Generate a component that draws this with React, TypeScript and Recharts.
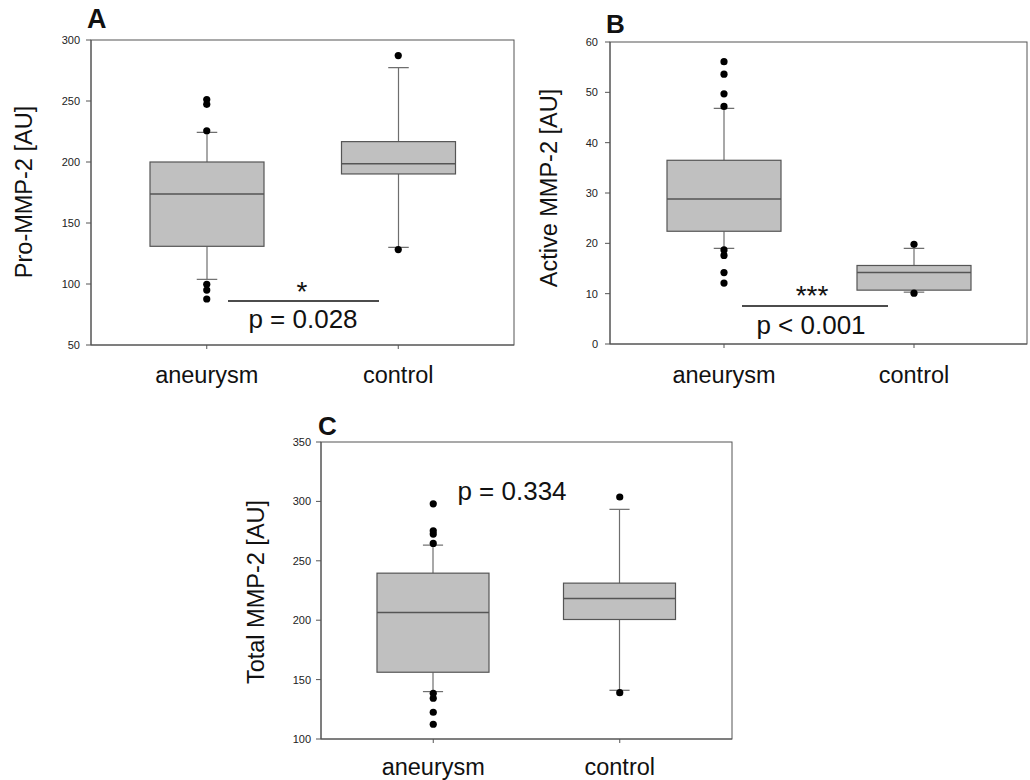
import React from 'react';
import { ComposedChart, Bar, Scatter, XAxis, YAxis, Customized } from 'recharts';

const FONT = "'Liberation Sans', Arial, sans-serif";

const groups = ['aneurysm', 'control'];

// Panel A – Pro-MMP-2 [AU]
const proLow = [103.8, 130.0];
const proQ1 = [130.9, 190.2];
const proMedian = [173.8, 198.6];
const proQ3 = [200.0, 216.7];
const proHigh = [224.3, 277.3];
const proOutAneurysm = [251.2, 247.3, 225.6, 99.8, 95.0, 87.7];
const proOutControl = [287.2, 128.2];
const proTicks = [50, 100, 150, 200, 250, 300];

// Panel B – Active MMP-2 [AU]
const actLow = [19.0, 10.3];
const actQ1 = [22.4, 10.7];
const actMedian = [28.8, 14.2];
const actQ3 = [36.5, 15.6];
const actHigh = [46.8, 19.0];
const actOutAneurysm = [56.1, 53.6, 49.7, 47.2, 18.7, 17.6, 14.2, 12.1];
const actOutControl = [19.8, 10.1];
const actTicks = [0, 10, 20, 30, 40, 50, 60];

// Panel C – Total MMP-2 [AU]
const totLow = [139.9, 141.0];
const totQ1 = [156.2, 200.6];
const totMedian = [206.5, 218.3];
const totQ3 = [239.6, 231.2];
const totHigh = [263.2, 293.3];
const totOutAneurysm = [298.0, 275.3, 272.5, 264.6, 138.5, 134.3, 122.5, 112.4];
const totOutControl = [303.7, 139.0];
const totTicks = [100, 150, 200, 250, 300, 350];

const makeBoxes = (low: number[], q1: number[], med: number[], q3: number[], high: number[]) =>
  groups.map((g, i) => ({ group: g, low: low[i], q1: q1[i], median: med[i], q3: q3[i], high: high[i] }));

const makeOutliers = (a: number[], c: number[]) => [
  ...a.map((v) => ({ group: groups[0], value: v })),
  ...c.map((v) => ({ group: groups[1], value: v })),
];

const BoxShape = (props: any) => {
  const { x, y, width, height, payload } = props;
  if (!payload || !isFinite(y) || !isFinite(height)) return null;
  const span = payload.high - payload.low;
  const h = Math.abs(height);
  const top = height >= 0 ? y : y + height;
  const py = (v: number) => top + ((payload.high - v) * h) / span;
  const cx = x + width / 2;
  const cap = width * 0.09;
  const wc = '#6e6e6e';
  return (
    <g>
      <line x1={cx} x2={cx} y1={py(payload.high)} y2={py(payload.q3)} stroke={wc} strokeWidth={1.2} />
      <line x1={cx} x2={cx} y1={py(payload.q1)} y2={py(payload.low)} stroke={wc} strokeWidth={1.2} />
      <line x1={cx - cap} x2={cx + cap} y1={py(payload.high)} y2={py(payload.high)} stroke={wc} strokeWidth={1.2} />
      <line x1={cx - cap} x2={cx + cap} y1={py(payload.low)} y2={py(payload.low)} stroke={wc} strokeWidth={1.2} />
      <rect
        x={x}
        y={py(payload.q3)}
        width={width}
        height={py(payload.q1) - py(payload.q3)}
        fill="#c0c0c0"
        stroke="#555"
        strokeWidth={1.2}
      />
      <line x1={x} x2={x + width} y1={py(payload.median)} y2={py(payload.median)} stroke="#555" strokeWidth={1.6} />
    </g>
  );
};

const Dot = (props: any) => {
  const { cx, cy } = props;
  if (!isFinite(cx) || !isFinite(cy)) return null;
  return <circle cx={cx} cy={cy} r={3.6} fill="#000" />;
};

const makeCatTick = (dy: number) => (props: any) => {
  const { x, y, payload } = props;
  return (
    <text x={x} y={y + dy} textAnchor="middle" fontSize={23.5} fill="#111" fontFamily={FONT}>
      {payload.value}
    </text>
  );
};

type Ann = { kind: 'text'; x: number; y: number; text: string; size: number; bold?: boolean; anchor?: string }
  | { kind: 'line'; x1: number; x2: number; y: number };

type PanelProps = {
  left: number;
  top: number;
  width: number;
  height: number;
  margin: { top: number; right: number; bottom: number; left: number };
  yAxisWidth: number;
  xAxisHeight: number;
  pad: { left: number; right: number };
  tickMargin: number;
  catDy: number;
  barSize: number;
  data: any[];
  outliers: any[];
  domain: [number, number];
  ticks: number[];
  yLabel: string;
  yLabelPos: { x: number; y: number };
  annotations: Ann[];
};

const Panel = (p: PanelProps) => {
  const frameX = p.margin.left + p.yAxisWidth;
  const frameY = p.margin.top;
  const frameW = p.width - frameX - p.margin.right;
  const frameH = p.height - p.margin.top - p.margin.bottom - p.xAxisHeight;
  const Ann = () => (
    <g fontFamily={FONT}>
      <rect x={frameX} y={frameY} width={frameW} height={frameH} fill="none" stroke="#555" strokeWidth={1} />
      <text
        transform={`translate(${p.yLabelPos.x},${p.yLabelPos.y}) rotate(-90)`}
        textAnchor="middle"
        fontSize={23.5}
        fill="#111"
      >
        {p.yLabel}
      </text>
      {p.annotations.map((a, i) =>
        a.kind === 'line' ? (
          <line key={i} x1={a.x1} x2={a.x2} y1={a.y} y2={a.y} stroke="#111" strokeWidth={1.5} />
        ) : (
          <text
            key={i}
            x={a.x}
            y={a.y}
            fontSize={a.size}
            fontWeight={a.bold ? 'bold' : 'normal'}
            textAnchor={(a.anchor as any) || 'middle'}
            fill="#111"
          >
            {a.text}
          </text>
        )
      )}
    </g>
  );
  return (
    <div style={{ position: 'absolute', left: p.left, top: p.top, width: p.width, height: p.height }}>
      <ComposedChart width={p.width} height={p.height} data={p.data} margin={p.margin}>
        <XAxis
          dataKey="group"
          type="category"
          allowDuplicatedCategory={false}
          padding={p.pad}
          height={p.xAxisHeight}
          stroke="#555"
          tickSize={4}
          tick={makeCatTick(p.catDy)}
          interval={0}
        />
        <YAxis
          type="number"
          domain={p.domain}
          ticks={p.ticks}
          interval={0}
          width={p.yAxisWidth}
          stroke="#555"
          tickSize={5}
          tickMargin={p.tickMargin}
          tick={{ fontSize: 11, fill: '#222', fontFamily: FONT }}
          allowDataOverflow
        />
        <Bar
          dataKey={(d: any) => [d.low, d.high]}
          barSize={p.barSize}
          shape={<BoxShape />}
          isAnimationActive={false}
        />
        <Scatter data={p.outliers} dataKey="value" shape={<Dot />} isAnimationActive={false} />
        <Customized component={<Ann />} />
      </ComposedChart>
    </div>
  );
};

export default function App() {
  return (
    <div style={{ position: 'absolute', left: 0, top: 0, width: 1030, height: 780, background: '#fff', fontFamily: FONT }}>
      <Panel
        left={0}
        top={0}
        width={530}
        height={400}
        margin={{ top: 40, right: 16, bottom: 10, left: 0 }}
        yAxisWidth={91}
        xAxisHeight={45}
        pad={{ left: 20, right: 20 }}
        tickMargin={6}
        catDy={32}
        barSize={114}
        data={makeBoxes(proLow, proQ1, proMedian, proQ3, proHigh)}
        outliers={makeOutliers(proOutAneurysm, proOutControl)}
        domain={[50, 300]}
        ticks={proTicks}
        yLabel="Pro-MMP-2 [AU]"
        yLabelPos={{ x: 32, y: 192 }}
        annotations={[
          { kind: 'text', x: 87, y: 28, text: 'A', size: 27, bold: true, anchor: 'start' },
          { kind: 'line', x1: 228, x2: 379, y: 301 },
          { kind: 'text', x: 302, y: 301, text: '*', size: 28 },
          { kind: 'text', x: 303, y: 328, text: 'p = 0.028', size: 26 },
        ]}
      />
      <Panel
        left={520}
        top={0}
        width={510}
        height={400}
        margin={{ top: 42, right: 3, bottom: 10, left: 0 }}
        yAxisWidth={90}
        xAxisHeight={46}
        pad={{ left: 19, right: 18 }}
        tickMargin={7}
        catDy={33}
        barSize={114}
        data={makeBoxes(actLow, actQ1, actMedian, actQ3, actHigh)}
        outliers={makeOutliers(actOutAneurysm, actOutControl)}
        domain={[0, 60]}
        ticks={actTicks}
        yLabel="Active MMP-2 [AU]"
        yLabelPos={{ x: 37, y: 188 }}
        annotations={[
          { kind: 'text', x: 86, y: 33, text: 'B', size: 26, bold: true, anchor: 'start' },
          { kind: 'line', x1: 222, x2: 368, y: 306 },
          { kind: 'text', x: 292, y: 305, text: '***', size: 28 },
          { kind: 'text', x: 291, y: 334, text: 'p < 0.001', size: 26 },
        ]}
      />
      <Panel
        left={220}
        top={400}
        width={530}
        height={380}
        margin={{ top: 42, right: 18, bottom: 6, left: 0 }}
        yAxisWidth={101}
        xAxisHeight={35}
        pad={{ left: 19, right: 19 }}
        tickMargin={5}
        catDy={30}
        barSize={112}
        data={makeBoxes(totLow, totQ1, totMedian, totQ3, totHigh)}
        outliers={makeOutliers(totOutAneurysm, totOutControl)}
        domain={[100, 350]}
        ticks={totTicks}
        yLabel="Total MMP-2 [AU]"
        yLabelPos={{ x: 44, y: 592 - 400 }}
        annotations={[
          { kind: 'text', x: 98, y: 35, text: 'C', size: 26, bold: true, anchor: 'start' },
          { kind: 'text', x: 292, y: 100, text: 'p = 0.334', size: 26 },
        ]}
      />
    </div>
  );
}
